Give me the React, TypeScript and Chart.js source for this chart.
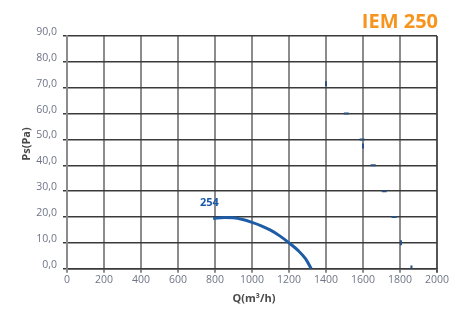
import React, { useEffect, useRef } from "react";
import { Chart, registerables } from "chart.js";

Chart.register(...registerables);

const chartTitle = "IEM 250";
const curveLabel = "254";
const xTitle = "Q(m³/h)";
const yTitle = "Ps(Pa)";

const curveQ = [790, 850, 900, 950, 1000, 1050, 1100, 1150, 1200, 1250, 1290, 1320];
const curvePs = [19.4, 19.8, 19.7, 19.0, 17.9, 16.6, 14.9, 12.7, 10.0, 7.0, 3.8, 0];

const fragQ = [1400, 1510, 1595, 1600, 1655, 1715, 1768, 1805, 1862];
const fragPs = [71.5, 60, 50, 47.5, 40, 30, 20, 10, 0.3];
const fragRot = [90, 0, 0, 90, 0, 0, 0, 90, 90];

const xMin = 0, xMax = 2000, xStep = 200;
const yMin = 0, yMax = 90, yStep = 10;

const labelPos = { x: 770, y: 25.5 };

export default function App() {
  const ref = useRef<HTMLCanvasElement | null>(null);
  useEffect(() => {
    document.body.style.margin = "0";
    const canvas = ref.current!;
    const textPlugin = {
      id: "texts",
      afterDraw(chart: any) {
        const ctx = chart.ctx;
        const xs = chart.scales.x;
        const ys = chart.scales.y;
        const ca = chart.chartArea;
        ctx.save();
        ctx.fillStyle = "#f7941d";
        ctx.font = "bold 20px 'Open Sans'";
        ctx.textAlign = "right";
        ctx.textBaseline = "alphabetic";
        ctx.fillText(chartTitle, 438, 28);

        ctx.fillStyle = "#1e5aa8";
        ctx.font = "bold 11px 'Open Sans'";
        ctx.textAlign = "center";
        ctx.textBaseline = "middle";
        ctx.fillText(curveLabel, xs.getPixelForValue(labelPos.x), ys.getPixelForValue(labelPos.y));

        ctx.fillStyle = "#4a4a4a";
        ctx.font = "bold 11px 'Open Sans'";
        ctx.fillText(xTitle, (ca.left + ca.right) / 2 + 2, 299);

        ctx.translate(27, 144);
        ctx.rotate(-Math.PI / 2);
        ctx.fillText(yTitle, 0, 0);
        ctx.restore();
      },
    };
    const chart = new Chart(canvas, {
      type: "scatter",
      data: {
        datasets: [
          {
            data: fragQ.map((q, i) => ({ x: q, y: fragPs[i] })),
            showLine: false,
            pointStyle: "line",
            pointRadius: 2.5,
            pointBorderWidth: 2,
            pointBorderColor: "#2a4f80",
            pointBackgroundColor: "#2a4f80",
            pointRotation: fragRot,
          } as any,
          {
            data: curveQ.map((q, i) => ({ x: q, y: curvePs[i] })),
            showLine: true,
            borderColor: "#1f5ca6",
            borderWidth: 3,
            pointRadius: 0,
            cubicInterpolationMode: "monotone",
            borderCapStyle: "butt",
          } as any,
        ],
      },
      options: {
        responsive: false,
        animation: false,
        devicePixelRatio: 1,
        layout: { padding: { left: 0, right: 36, top: 36, bottom: 0 } },
        plugins: { legend: { display: false }, tooltip: { enabled: false } },
        scales: {
          x: {
            type: "linear",
            min: xMin,
            max: xMax,
            afterFit: (s: any) => { s.height = 43.3; },
            ticks: {
              stepSize: xStep,
              padding: 1,
              color: "#6e7586",
              font: { family: "'Open Sans'", size: 10.5 },
              maxRotation: 0,
              callback: (v: any) => String(v),
            },
            grid: {
              color: (c: any) => (c.tick && c.tick.value === xMax ? "#555555" : "#8c8c8c"),
              lineWidth: 2,
              tickLength: 4,
            },
            border: { color: "#3a3a3a", width: 1.5 },
          },
          y: {
            type: "linear",
            min: yMin,
            max: yMax,
            afterFit: (s: any) => { s.width = 67; },
            ticks: {
              stepSize: yStep,
              padding: 6,
              labelOffset: -4,
              color: "#6e7586",
              font: { family: "'Open Sans'", size: 10.5 },
              callback: (v: any) => Number(v).toFixed(1).replace(".", ","),
            },
            grid: { color: "#3a3a3a", lineWidth: 1.5, tickLength: 4 },
            border: { color: "#8c8c8c", width: 2 },
          },
        },
      },
      plugins: [textPlugin],
    });
    return () => chart.destroy();
  }, []);
  return (
    <div style={{ width: 473, height: 312 }}>
      <canvas ref={ref} width={473} height={312} />
    </div>
  );
}
